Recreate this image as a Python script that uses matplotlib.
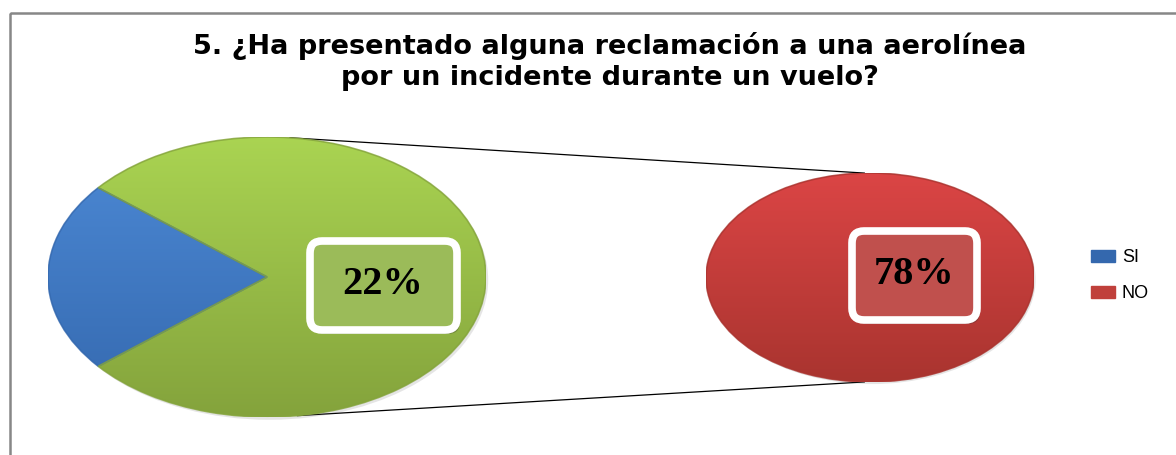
import matplotlib.pyplot as plt
import numpy as np
from matplotlib.colors import LinearSegmentedColormap
from matplotlib.patches import FancyBboxPatch, Rectangle, Ellipse, Patch, Wedge
from matplotlib.lines import Line2D

# data
categories = ['SI', 'NO']
values = [22, 78]
pct_labels = ['22%', '78%']
title_lines = ['5. ¿Ha presentado alguna reclamación a una aerolínea',
               'por un incidente durante un vuelo?']

W, H = 1176, 455
fig = plt.figure(figsize=(W / 100, H / 100), dpi=100)
fig.patch.set_facecolor('white')

# background layer in pixel coordinates (frame + connector lines)
bg = fig.add_axes([0, 0, 1, 1], zorder=0)
bg.set_xlim(0, W)
bg.set_ylim(H, 0)
bg.axis('off')
bg.add_patch(Rectangle((10, 13), 1300, 600, fill=False, edgecolor='#878787', lw=1.8))


def fig_rect(x0, y0, x1, y1):
    return [x0 / W, (H - y1) / H, (x1 - x0) / W, (y1 - y0) / H]


def draw_pie(box, vals, grads, start):
    ax = fig.add_axes(fig_rect(*box), zorder=1)
    ax.patch.set_alpha(0)
    wedges, _ = ax.pie(vals, startangle=start, counterclock=True, radius=1,
                       colors=[g[0] for g in grads],
                       wedgeprops=dict(linewidth=0))
    # soft drop shadow
    sh = Ellipse((0.01, -0.02), 2.0, 2.0, facecolor='#555555', alpha=0.15,
                 edgecolor='none', zorder=0, clip_on=False)
    ax.add_patch(sh)
    grad = np.linspace(0, 1, 256)[:, None]
    for w, (top, bottom) in zip(wedges, grads):
        w.set_zorder(1)
        cmap = LinearSegmentedColormap.from_list('g', [top, bottom])
        im = ax.imshow(grad, cmap=cmap, extent=(-1, 1, -1, 1), origin='upper',
                       aspect='auto', zorder=2)
        im.set_clip_path(w)
        ax.add_patch(Wedge(w.center, w.r, w.theta1, w.theta2, facecolor='none',
                           edgecolor=bottom, lw=1.2, zorder=3, alpha=0.8))
    ax.set_aspect('auto')
    ax.set_xlim(-1, 1)
    ax.set_ylim(-1, 1)
    ax.axis('off')
    return ax


blue = ('#4d8ad6', '#3468ae')
green = ('#aad452', '#84a33c')
red = ('#db4545', '#a9342f')

left_box = (48, 137, 486, 417)
right_box = (706, 173, 1034, 382)

draw_pie(left_box, values, [blue, green], 140.4)
draw_pie(right_box, [values[1]], [red], 90)


# connector lines between the two pies
def ell_pt(box, ang):
    cx, cy = (box[0] + box[2]) / 2, (box[1] + box[3]) / 2
    rx, ry = (box[2] - box[0]) / 2, (box[3] - box[1]) / 2
    a = np.deg2rad(ang)
    return cx + rx * np.cos(a), cy - ry * np.sin(a)


for a1, a2 in [(84, 92), (278, 268)]:
    p1 = ell_pt(left_box, a1)
    p2 = ell_pt(right_box, a2)
    bg.add_line(Line2D([p1[0], p2[0]], [p1[1], p2[1]], color='black', lw=0.9))

# foreground layer: title, labels, legend
fg = fig.add_axes([0, 0, 1, 1], zorder=5)
fg.set_xlim(0, W)
fg.set_ylim(H, 0)
fg.axis('off')
fg.patch.set_alpha(0)

fg.text(610, 46, title_lines[0], ha='center', va='center', fontsize=19.5,
        fontweight='bold', family='DejaVu Sans', color='black')
fg.text(610, 78, title_lines[1], ha='center', va='center', fontsize=19.5,
        fontweight='bold', family='DejaVu Sans', color='black')

label_boxes = [((310, 241, 457, 330), '#9bbb59'), ((852, 231, 977, 320), '#c0504d')]
for (x0, y0, x1, y1), fc in label_boxes:
    shadow = FancyBboxPatch((x0 + 3, y0 + 4), x1 - x0, y1 - y0,
                            boxstyle='round,pad=0,rounding_size=12',
                            facecolor='#333333', edgecolor='none', alpha=0.3)
    fg.add_patch(shadow)
    fg.add_patch(FancyBboxPatch((x0, y0), x1 - x0, y1 - y0,
                                boxstyle='round,pad=0,rounding_size=12',
                                facecolor=fc, edgecolor='white', lw=5.5))
fg.text(383, 285, pct_labels[0], ha='center', va='center', fontsize=29,
        fontweight='bold', family='Liberation Serif')
fg.text(914, 275, pct_labels[1], ha='center', va='center', fontsize=29,
        fontweight='bold', family='Liberation Serif')

# legend
handles = [Patch(facecolor=blue[1], edgecolor=blue[1]),
           Patch(facecolor='#c0403b', edgecolor='#c0403b')]
fg.legend(handles, categories, loc='upper left',
          bbox_to_anchor=(1084 / W, (H - 242) / H), bbox_transform=fig.transFigure,
          frameon=False, handlelength=1.3, handleheight=0.6,
          handletextpad=0.4, labelspacing=1.05, borderaxespad=0,
          prop={'family': 'Liberation Sans', 'size': 13})

fig.savefig('out.png', dpi=100)
